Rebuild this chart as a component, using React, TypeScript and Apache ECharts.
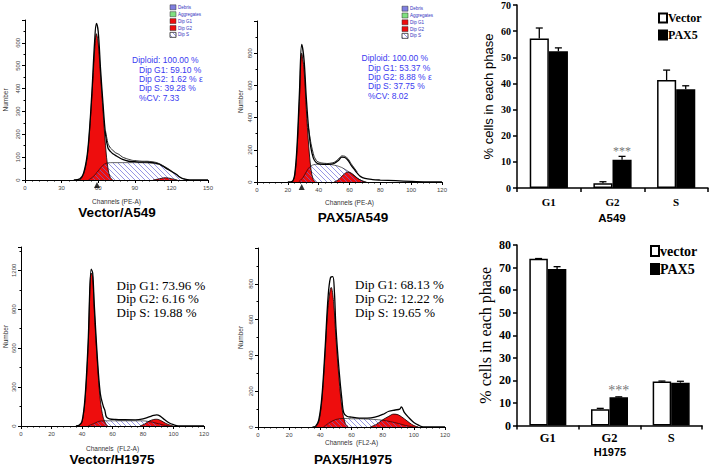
import React, { useEffect, useRef } from 'react';
import * as echarts from 'echarts';

// ---------- Histogram data: [channel, count] ----------
const vecA549Env = [[40,0],[45,5],[48,30],[51,110],[53,230],[55,400],[57,600],[58.5,685],[60,650],[62,480],[64,330],[66,200],[68,140],[70,125],[72,115],[75,105],[80,90],[85,82],[90,80],[95,78],[100,78],[105,76],[110,70],[113,60],[116,50],[120,38],[124,25],[127,12],[130,5],[135,0],[150,0]];
const vecA549Raw = [[66,215],[68,160],[70,140],[72,130],[74,120],[77,112],[80,100],[84,92],[88,86],[92,84],[96,82],[100,82],[104,80],[108,76],[112,66],[116,54],[120,40]];
const vecA549G1 = [[45,0],[48,25],[51,100],[53,220],[55,380],[57,560],[58.5,640],[60,600],[62,450],[64,300],[66,150],[68,50],[70,10],[72,0]];
const vecA549S = [[52,0],[56,15],[60,40],[64,65],[68,75],[72,76],[80,76],[90,76],[100,75],[110,68],[115,55],[120,38],[125,20],[130,5],[133,0]];
const vecA549G2 = [[105,0],[110,5],[115,10],[120,6],[125,0]];

const paxA549Env = [[20,0],[23,5],[24.5,50],[26,230],[27.5,550],[29,855],[30.5,760],[32,520],[33.5,330],[35,210],[36.5,150],[38,125],[40,112],[43,110],[46,110],[50,115],[53,135],[55,155],[57,152],[59,135],[61,105],[63,80],[65,55],[67,35],[70,22],[75,15],[80,12],[90,8],[100,4],[110,1],[120,0]];
const paxA549Raw = [[33,360],[35,240],[37,160],[39,128],[42,118],[46,115],[50,122],[53,145],[55,162],[57,160],[59,145],[61,115],[63,88],[65,62]];
const paxA549G1 = [[23,0],[24.5,40],[26,200],[27.5,500],[29,800],[30.5,700],[32,450],[33.5,230],[35,80],[36.5,15],[38,0]];
const paxA549S = [[27,0],[30,30],[33,80],[36,105],[40,110],[45,110],[50,105],[55,90],[60,60],[64,30],[68,8],[70,0]];
const paxA549G2 = [[50,0],[53,15],[56,45],[59,62],[62,50],[65,25],[68,8],[71,0]];

const vecH1975Env = [[36,0],[38,5],[40,35],[42,220],[44,640],[46,1210],[47,1180],[48,950],[50,540],[52,250],[54,150],[55,120],[56,70],[58,55],[62,50],[68,48],[75,47],[80,55],[84,70],[87,82],[89,85],[91,78],[94,50],[97,25],[100,10],[103,0],[120,0]];
const vecH1975G1 = [[38,0],[40,30],[42,200],[44,600],[46,1180],[47,1150],[48,900],[50,500],[52,200],[54,60],[56,10],[57,0]];
const vecH1975S = [[44,0],[48,20],[52,38],[58,40],[65,40],[72,40],[78,40],[82,38],[86,30],[90,18],[94,6],[97,0]];
const vecH1975G2 = [[78,0],[81,15],[84,38],[87,50],[89,52],[92,40],[95,20],[98,6],[100,0]];

const paxH1975Env = [[35,0],[37,5],[39,40],[41,170],[43,430],[45,730],[46.5,835],[48,840],[49,760],[50,560],[52,320],[54,140],[55,80],[57,60],[60,55],[65,50],[70,50],[75,55],[80,70],[84,88],[88,95],[91,100],[92,112],[94,80],[97,50],[100,25],[103,10],[106,0],[120,0]];
const paxH1975G1 = [[37,0],[39,30],[41,150],[43,400],[45,680],[47,780],[48.5,700],[50,500],[52,270],[54,100],[56,20],[58,0]];
const paxH1975S = [[42,0],[46,25],[50,42],[55,48],[60,46],[65,46],[70,44],[75,42],[80,38],[85,30],[90,20],[95,8],[100,0]];
const paxH1975G2 = [[72,0],[76,15],[80,40],[84,60],[87,72],[90,68],[94,45],[97,25],[100,8],[103,0]];

// G1 peak markers (channel)
const a549Markers = [[59, 0], [29, 0]];

// ---------- Bar data ----------
const phases = ['G1', 'G2', 'S'];
const a549Vector = [57.2, 1.8, 41.3];
const a549VectorErr = [4.0, 0.6, 3.8];
const a549Pax5 = [52.3, 10.8, 37.8];
const a549Pax5Err = [1.3, 1.3, 1.3];
const h1975Vector = [73.9, 7.2, 19.5];
const h1975VectorErr = [0.1, 0.4, 0.2];
const h1975Pax5 = [69.4, 12.5, 19.0];
const h1975Pax5Err = [1.0, 0.2, 0.6];

const SANS = 'Liberation Sans, Arial, sans-serif';
const SERIF = 'Liberation Serif, Times New Roman, serif';
const RED = '#ee0d0d';
const BLUE_TXT = '#3a3af0';

function makeHatch() {
  const c = document.createElement('canvas');
  c.width = 5; c.height = 5;
  const ctx = c.getContext('2d')!;
  ctx.strokeStyle = '#6a6ad8';
  ctx.lineWidth = 0.7;
  ctx.beginPath();
  ctx.moveTo(0, 0); ctx.lineTo(5, 5);
  ctx.moveTo(-1, 4); ctx.lineTo(1, 6);
  ctx.moveTo(4, -1); ctx.lineTo(6, 1);
  ctx.stroke();
  return c;
}

export default function App() {
  const ref = useRef<HTMLDivElement>(null);
  useEffect(() => {
    const chart = echarts.init(ref.current!, null, { renderer: 'svg' });
    const hatch = { image: makeHatch(), repeat: 'repeat', imageWidth: 5, imageHeight: 5 } as any;

    const grids = [
      { left: 25, top: 20, width: 183, height: 160 },
      { left: 257, top: 21, width: 185, height: 161 },
      { left: 517, top: 4, width: 191, height: 184 },
      { left: 21, top: 247, width: 183, height: 179 },
      { left: 258, top: 248, width: 187, height: 179 },
      { left: 517, top: 245, width: 185, height: 180.5 },
    ];

    const tiny = { fontSize: 6, color: '#444', fontFamily: SANS };
    const histX = (gi: number, max: number, interval: number, name: string, gap: number) => ({
      type: 'value', gridIndex: gi, min: 0, max, interval,
      name, nameLocation: 'middle', nameGap: gap, nameTextStyle: { fontSize: 6.5, color: '#333', fontFamily: SANS },
      axisLine: { lineStyle: { color: '#000', width: 1 } },
      axisTick: { show: true, length: 3, lineStyle: { color: '#000' } },
      minorTick: { show: true, splitNumber: 5, length: 1.5, lineStyle: { color: '#000' } },
      axisLabel: { ...tiny, margin: 5 },
      splitLine: { show: false },
    });
    const histY = (gi: number, max: number, interval: number, top: number, gap: number) => ({
      type: 'value', gridIndex: gi, min: 0, max, interval,
      name: 'Number', nameLocation: 'middle', nameGap: gap, nameTextStyle: { fontSize: 6.5, color: '#333', fontFamily: SANS },
      axisLine: { show: true, lineStyle: { color: '#000', width: 1 } },
      axisTick: { show: true, length: 3, lineStyle: { color: '#000' } },
      minorTick: { show: true, splitNumber: 2, length: 1.5, lineStyle: { color: '#000' } },
      axisLabel: { ...tiny, rotate: 90, margin: 4, formatter: (v: number) => (v > top ? '' : String(v)) },
      splitLine: { show: false },
    });

    const barX = (gi: number, size: number, margin: number) => ({
      type: 'category', gridIndex: gi, data: phases,
      axisLine: { lineStyle: { color: '#000', width: 1.5 } },
      axisTick: { show: true, length: 4, lineStyle: { color: '#000', width: 1.5 } },
      axisLabel: { fontFamily: SERIF, fontWeight: 'bold', fontSize: size, color: '#000', margin },
    });
    const barY = (gi: number, max: number, size: number, titleFont: string, titleSize: number, gap: number) => ({
      type: 'value', gridIndex: gi, min: 0, max, interval: 10,
      name: '% cells in each phase', nameLocation: 'middle', nameGap: gap,
      nameTextStyle: { fontFamily: titleFont, fontSize: titleSize, color: '#000' },
      axisLine: { show: true, lineStyle: { color: '#000', width: 1.5 } },
      axisTick: { show: true, length: 4, lineStyle: { color: '#000', width: 1.5 } },
      axisLabel: { fontFamily: SERIF, fontWeight: 'bold', fontSize: size, color: '#000', margin: 6 },
      splitLine: { show: false },
    });

    const histSeries = (gi: number, env: number[][], g1: number[][], g2: number[][], s: number[][], raw?: number[][]) => {
      const base = { type: 'line', xAxisIndex: gi, yAxisIndex: gi, symbol: 'none', smooth: 0.35 };
      const out: any[] = [
        { ...base, name: 'Dip G1', data: g1, lineStyle: { color: '#000', width: 0.8 }, areaStyle: { color: RED, opacity: 1 } },
        { ...base, name: 'Dip G2', data: g2, lineStyle: { color: '#000', width: 0.8 }, areaStyle: { color: RED, opacity: 1 } },
        { ...base, name: 'Dip S', data: s, lineStyle: { color: '#000', width: 0.6 }, areaStyle: { color: hatch, opacity: 1 } },
        { ...base, name: 'Data', data: env, lineStyle: { color: '#000', width: 1.3 } },
      ];
      if (raw) out.push({ ...base, name: 'Raw', smooth: 0.2, data: raw, lineStyle: { color: '#111', width: 0.9 } });
      return out;
    };

    const errSeries = (gi: number, vals: number[], errs: number[], side: number) => ({
      type: 'custom', xAxisIndex: gi, yAxisIndex: gi, z: 3,
      data: vals.map((v, i) => [i, v + errs[i], v]),
      renderItem: (params: any, api: any) => {
        const b = api.coord([api.value(0), api.value(2)]);
        const t = api.coord([api.value(0), api.value(1)]);
        const band = api.size([1, 0])[0];
        const cx = b[0] + side * band * 0.15;
        const st = { stroke: '#000', lineWidth: 1.3 };
        return {
          type: 'group',
          children: [
            { type: 'line', shape: { x1: cx, y1: b[1], x2: cx, y2: t[1] }, style: st },
            { type: 'line', shape: { x1: cx - 3.5, y1: t[1], x2: cx + 3.5, y2: t[1] }, style: st },
          ],
        };
      },
    });

    const starLabel = (size: number, dist: number) => ({
      show: true, position: 'top', distance: dist, formatter: '***', color: '#777', fontSize: size, fontFamily: SERIF,
    });

    const barSeries = (gi: number, nameV: string, vec: number[], vErr: number[], pax: number[], pErr: number[], starSize: number, dist: number) => [
      {
        type: 'bar', name: nameV, xAxisIndex: gi, yAxisIndex: gi, data: vec,
        barGap: '0%', barCategoryGap: '40%',
        itemStyle: { color: '#fff', borderColor: '#000', borderWidth: 1.5 },
      },
      {
        type: 'bar', name: 'PAX5', xAxisIndex: gi, yAxisIndex: gi,
        data: pax.map((v, i) => (i === 1 ? { value: v, label: starLabel(starSize, dist) } : v)),
        barGap: '0%', barCategoryGap: '40%',
        itemStyle: { color: '#000', borderColor: '#000', borderWidth: 1.5 },
      },
      errSeries(gi, vec, vErr, -1),
      errSeries(gi, pax, pErr, 1),
    ];

    const markerSeries = (gi: number, pt: number[]) => ({
      type: 'scatter', xAxisIndex: gi, yAxisIndex: gi, data: [pt], symbol: 'triangle',
      symbolSize: [6, 6], symbolOffset: [0, 5], itemStyle: { color: '#000' }, clip: false, z: 5,
    });

    const txt = (text: string, x: number, y: number, style: any, extra: any = {}) => ({
      type: 'text', x, y, style: { text, verticalAlign: 'middle', ...style }, ...extra,
    });

    const blue = { fill: BLUE_TXT, fontSize: 8.5, fontFamily: SANS };
    const times = { fill: '#000', fontSize: 13, fontFamily: SERIF };
    const titleSt = { fill: '#000', fontSize: 13.5, fontWeight: 'bold', fontFamily: SANS, align: 'center' };

    const legendBoxes = (x: number, y0: number, dy: number) => {
      const items = [
        { n: 'Debris', c: '#7f7fe0' },
        { n: 'Aggregates', c: '#80e080' },
        { n: 'Dip G1', c: RED },
        { n: 'Dip G2', c: RED },
        { n: 'Dip S', c: hatch },
      ];
      const out: any[] = [];
      items.forEach((it, i) => {
        const y = y0 + i * dy;
        out.push({ type: 'rect', shape: { x, y: y - 2.5, width: 6, height: 5 }, style: { fill: i === 4 ? '#fff' : it.c, stroke: '#333', lineWidth: 0.5 } });
        if (i === 4) out.push({ type: 'rect', shape: { x, y: y - 2.5, width: 6, height: 5 }, style: { fill: hatch, stroke: '#333', lineWidth: 0.5 } });
        out.push(txt(it.n, x + 8, y, { fill: '#3030c0', fontSize: 4.5, fontFamily: SANS }));
      });
      return out;
    };

    const graphic: any[] = [
      ...legendBoxes(170, 7.3, 6.9),
      ...legendBoxes(402, 8.7, 6.8),
      txt('Diploid: 100.00 %', 132, 60, blue),
      txt('Dip G1: 59.10 %', 139, 69.5, blue),
      txt('Dip G2: 1.62 % ε', 139, 79, blue),
      txt('Dip S: 39.28 %', 139, 88.3, blue),
      txt('%CV: 7.33', 139, 97.8, blue),
      txt('Diploid: 100.00 %', 361.5, 58.3, blue),
      txt('Dip G1: 53.37 %', 368, 67.7, blue),
      txt('Dip G2: 8.88 % ε', 368, 77, blue),
      txt('Dip S: 37.75 %', 368, 86.3, blue),
      txt('%CV: 8.02', 368, 95.7, blue),
      txt('Dip G1: 73.96 %', 116.5, 285, times),
      txt('Dip G2: 6.16 %', 116.5, 298.5, times),
      txt('Dip S: 19.88 %', 116.5, 312, times),
      txt('Dip G1: 68.13 %', 355, 284.5, times),
      txt('Dip G2: 12.22 %', 355, 298.5, times),
      txt('Dip S: 19.65 %', 355, 312.5, times),
      txt('Vector/A549', 117, 212, titleSt),
      txt('PAX5/A549', 353, 217, titleSt),
      txt('Vector/H1975', 112, 459.5, titleSt),
      txt('PAX5/H1975', 353, 459.5, titleSt),
      txt('A549', 612, 218, { fill: '#000', fontSize: 11.5, fontWeight: 'bold', fontFamily: SANS, align: 'center' }),
      txt('H1975', 610, 452, { fill: '#000', fontSize: 11, fontWeight: 'bold', fontFamily: SANS, align: 'center' }),
    ];

    chart.setOption({
      animation: false,
      backgroundColor: '#fff',
      grid: grids,
      legend: [
        {
          data: ['Vector', 'PAX5'], orient: 'vertical', left: 653, top: 7, itemGap: 5,
          itemWidth: 8, itemHeight: 9, icon: 'rect',
          textStyle: { fontFamily: SERIF, fontWeight: 'bold', fontSize: 12, color: '#000', padding: [0, 0, 0, -4] },
          selectedMode: false,
        },
        {
          data: ['vector', 'PAX5'], orient: 'vertical', left: 645, top: 239, itemGap: 4,
          itemWidth: 8, itemHeight: 10, icon: 'rect',
          textStyle: { fontFamily: SERIF, fontWeight: 'bold', fontSize: 14, color: '#000', padding: [0, 0, 0, -4] },
          selectedMode: false,
        },
      ],
      xAxis: [
        histX(0, 150, 30, 'Channels (PE-A)', 18),
        histX(1, 120, 20, 'Channels (PE-A)', 17),
        barX(2, 11, 8),
        histX(3, 120, 20, 'Channels  (FL2-A)', 19),
        histX(4, 120, 20, 'Channels  (FL2-A)', 11),
        barX(5, 12.5, 6),
      ],
      yAxis: [
        histY(0, 700, 100, 600, 16),
        histY(1, 1000, 200, 800, 13),
        barY(2, 70, 10, SANS, 13, 22),
        histY(3, 1380, 300, 1200, 12),
        histY(4, 1000, 200, 800, 14),
        barY(5, 80, 12, SERIF, 16, 24),
      ],
      series: [
        ...histSeries(0, vecA549Env, vecA549G1, vecA549G2, vecA549S, vecA549Raw),
        ...histSeries(1, paxA549Env, paxA549G1, paxA549G2, paxA549S, paxA549Raw),
        ...histSeries(3, vecH1975Env, vecH1975G1, vecH1975G2, vecH1975S),
        ...histSeries(4, paxH1975Env, paxH1975G1, paxH1975G2, paxH1975S),
        markerSeries(0, a549Markers[0]),
        markerSeries(1, a549Markers[1]),
        ...barSeries(2, 'Vector', a549Vector, a549VectorErr, a549Pax5, a549Pax5Err, 12, 3),
        ...barSeries(5, 'vector', h1975Vector, h1975VectorErr, h1975Pax5, h1975Pax5Err, 14, 0),
      ],
      graphic,
    });
    return () => chart.dispose();
  }, []);
  return <div ref={ref} style={{ position: 'fixed', left: 0, top: 0, width: 709, height: 467 }} />;
}
